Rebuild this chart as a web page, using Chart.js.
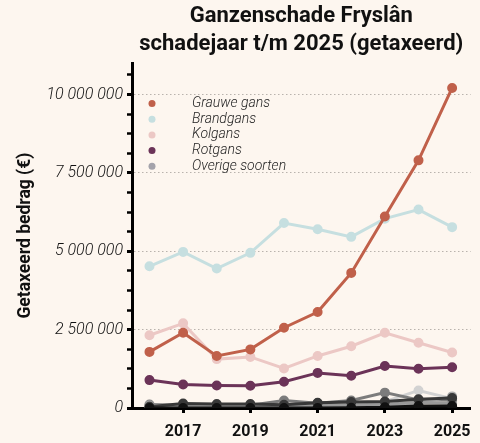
<!DOCTYPE html>
<html>
<head>
<meta charset="utf-8">
<script src="https://cdn.jsdelivr.net/npm/chart.js@4/dist/chart.umd.min.js"></script>
<style>
html,body{margin:0;padding:0;background:#fdf6ef;}
canvas{display:block;}
</style>
</head>
<body>
<canvas id="c" width="480" height="443"></canvas>
<script>
const years = [2016,2017,2018,2019,2020,2021,2022,2023,2024,2025];
const seriesNames = ['Grauwe gans','Brandgans','Kolgans','Rotgans','Overige soorten'];
const grauweGans = [1790000,2400000,1660000,1870000,2560000,3060000,4310000,6110000,7900000,10210000];
const brandgans = [4520000,4980000,4450000,4950000,5900000,5700000,5460000,6040000,6330000,5770000];
const kolgans = [2320000,2700000,1560000,1630000,1260000,1660000,1970000,2400000,2080000,1770000];
const rotgans = [890000,750000,720000,710000,840000,1120000,1030000,1340000,1250000,1300000];
const overige1 = [40000,140000,130000,130000,100000,170000,190000,210000,280000,320000];
const overige2 = [110000,90000,70000,90000,240000,150000,240000,490000,260000,250000];
const overige3 = [20000,10000,0,0,0,0,30000,200000,560000,300000];
const overige4 = [60000,40000,20000,10000,10000,20000,40000,80000,150000,370000];
const overige5 = [0,0,0,0,0,0,10000,20000,60000,60000];
const overige6 = [90000,70000,50000,60000,60000,80000,100000,120000,180000,140000];
const xTickYears = [2016,2017,2018,2019,2020,2021,2022,2023,2024,2025];
const xLabelYears = [2017,2019,2021,2023,2025];
const yTickStep = 625000;
const yLabelStep = 2500000;
const yTickMax = 10625000;

const colors = ['#c0604a','#c6dfe0','#ecc8c5','#6b3358','#a4a3ab'];
const toPts = arr => arr.map((v,i)=>({x:years[i], y:v}));
function ds(label, data, color, order){
  return {label, data: toPts(data), borderColor: color, backgroundColor: color,
    pointBackgroundColor: color, pointBorderColor: color, borderWidth: 3,
    pointRadius: 3.5, pointHoverRadius: 3.5, tension: 0, order};
}
const datasets = [
  ds(seriesNames[0], grauweGans, colors[0], 0),
  ds(seriesNames[3], rotgans, colors[3], 1),
  ds(seriesNames[2], kolgans, colors[2], 2),
  ds(seriesNames[1], brandgans, colors[1], 3),
  ds('o5', overige5, '#111111', 4),
  ds('o1', overige1, '#383838', 5),
  ds('o6', overige6, '#999999', 6),
  ds('o4', overige4, '#aaaaaa', 7),
  ds('o2', overige2, '#7c7c7c', 8),
  ds('o3', overige3, '#d2d2d2', 9),
];

function isMult(v, step){ const r = v/step; return Math.abs(r - Math.round(r)) < 1e-6; }
function fmt(v){
  return String(Math.round(v)).replace(/\B(?=(\d{3})+(?!\d))/g, ' ');
}
const yTickVals = [];
for (let v = 0; v <= yTickMax + 1; v += yTickStep) yTickVals.push(v);

const legendPlugin = {
  id: 'customLegend',
  afterDatasetsDraw(chart){
    const ctx = chart.ctx;
    ctx.save();
    const rows = [103.5, 119.2, 134.9, 150.6, 166.3];
    seriesNames.forEach((n,i)=>{
      ctx.fillStyle = colors[i];
      ctx.beginPath();
      ctx.arc(152, rows[i], 3.5, 0, Math.PI*2);
      ctx.fill();
      ctx.fillStyle = '#222';
      ctx.font = 'italic 300 14px Roboto';
      ctx.textBaseline = 'middle';
      ctx.textAlign = 'left';
      ctx.fillText(n, 192, rows[i]);
    });
    ctx.restore();
  }
};

new Chart(document.getElementById('c'), {
  type: 'line',
  data: { datasets },
  plugins: [legendPlugin],
  options: {
    responsive: false,
    animation: false,
    devicePixelRatio: 1,
    layout: { padding: 0 },
    plugins: {
      legend: { display: false },
      tooltip: { enabled: false },
      title: {
        display: true,
        text: ['Ganzenschade Fryslân','schadejaar t/m 2025 (getaxeerd)'],
        font: { family: 'Roboto', size: 22, weight: 'bold', lineHeight: 1.3 },
        color: '#111',
        fullSize: false,
        padding: { top: 2, bottom: 4 }
      }
    },
    scales: {
      x: {
        type: 'linear',
        min: 2015.48,
        max: 2025.55,
        afterFit(s){ s.height = 35; },
        afterBuildTicks(s){ s.ticks = xTickYears.map(v => ({value: v})); },
        border: { display: true, color: '#000', width: 3 },
        grid: {
          drawOnChartArea: false,
          drawTicks: true,
          tickLength: 5,
          tickWidth: 3,
          tickColor: c => xLabelYears.includes(c.tick.value) ? '#000' : 'rgba(0,0,0,0)'
        },
        ticks: {
          autoSkip: false,
          maxRotation: 0,
          padding: 9,
          color: '#111',
          font: { family: 'Roboto', size: 16, weight: 'bold' },
          callback: v => xLabelYears.includes(v) ? String(v) : ''
        }
      },
      y: {
        type: 'linear',
        min: 0,
        max: 11000000,
        afterFit(s){ s.width = 132; },
        afterBuildTicks(s){ s.ticks = yTickVals.map(v => ({value: v})); },
        border: { display: true, color: '#000', width: 3, dash: [1.5, 2.5] },
        grid: {
          drawTicks: true,
          tickLength: 5,
          lineWidth: 1,
          color: c => (c.tick.value > 0 && isMult(c.tick.value, yLabelStep)) ? '#b9b3ad' : 'rgba(0,0,0,0)',
          tickColor: '#000',
          tickWidth: c => isMult(c.tick.value, yLabelStep) ? 3 : 2.5,
          tickBorderDash: []
        },
        ticks: {
          autoSkip: false,
          padding: 4,
          color: '#111',
          font: { family: 'Roboto', size: 16, style: 'italic', weight: '300' },
          callback: v => isMult(v, yLabelStep) ? fmt(v) : ''
        },
        title: {
          display: true,
          text: 'Getaxeerd bedrag (€)',
          color: '#111',
          font: { family: 'Roboto', size: 17.5, weight: 'bold' },
          padding: { top: 15, bottom: 0 }
        }
      }
    }
  }
});
</script>
</body>
</html>
